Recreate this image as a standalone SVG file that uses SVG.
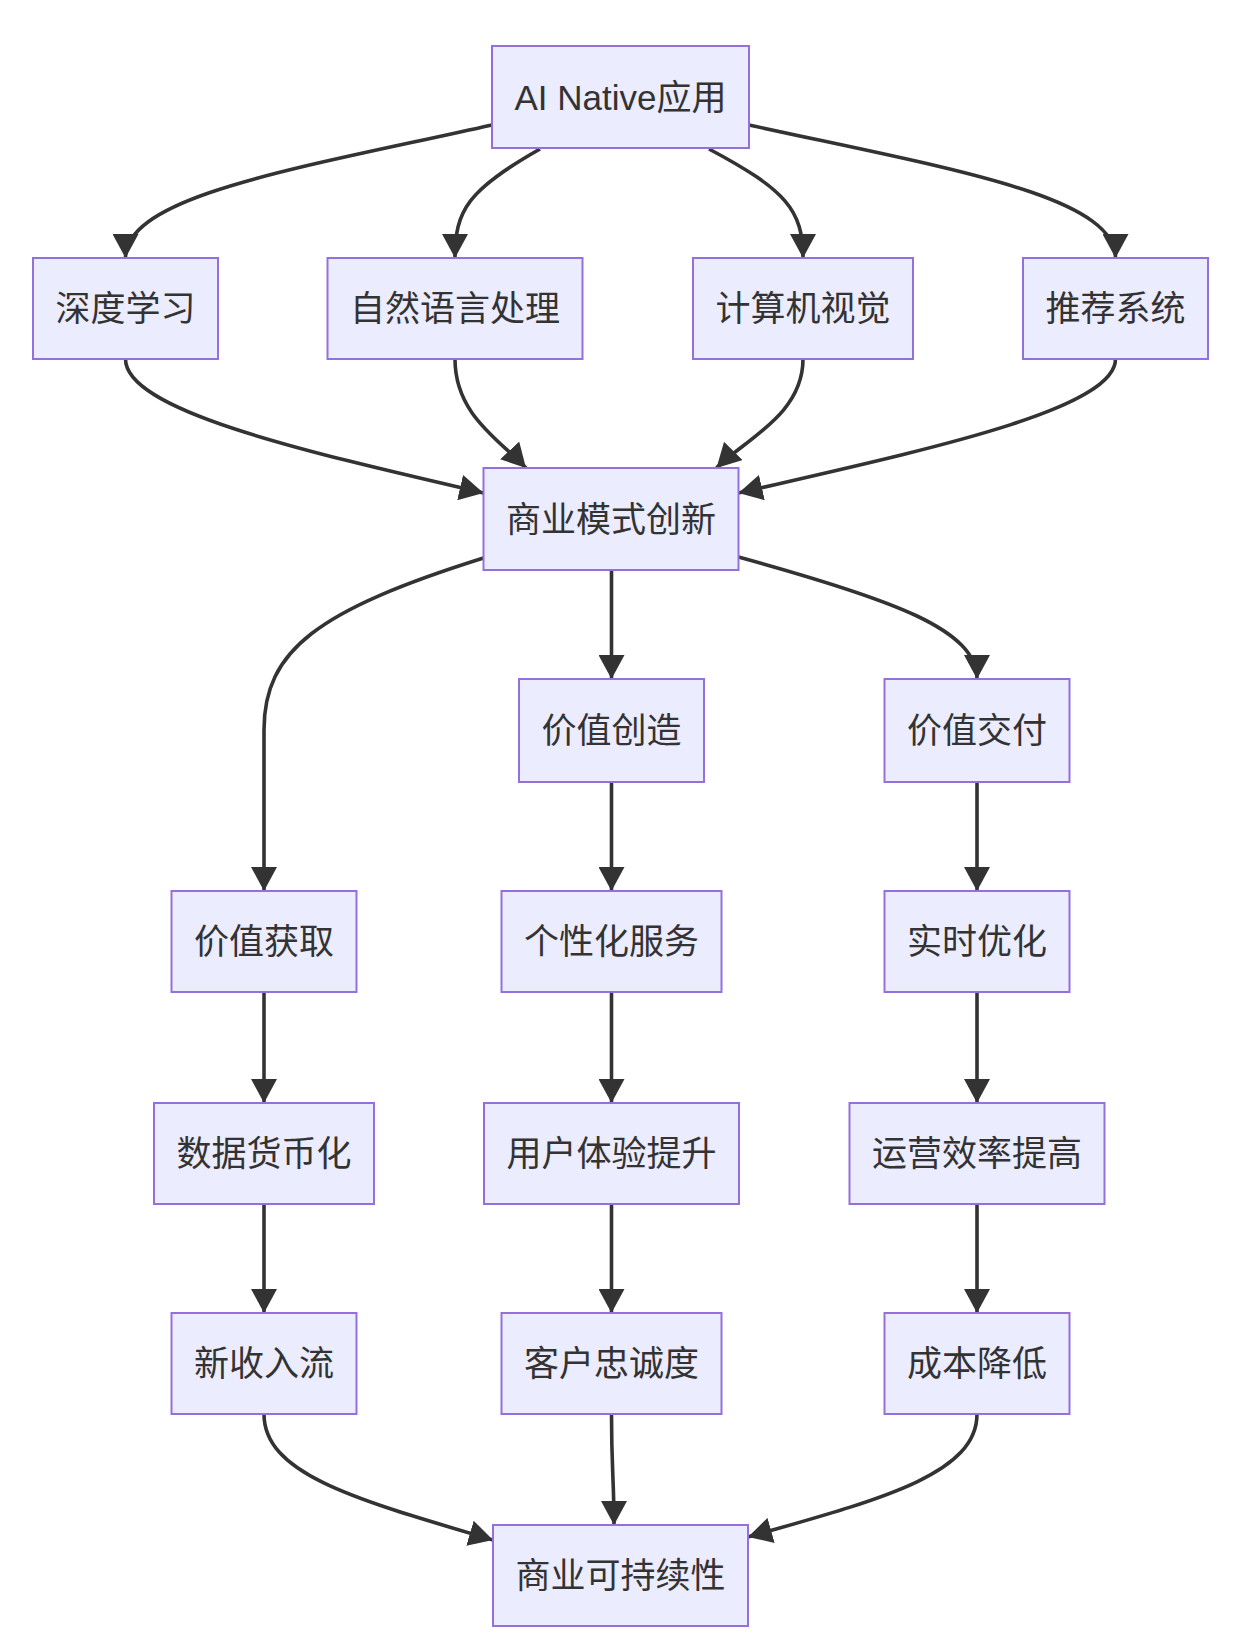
<svg xmlns="http://www.w3.org/2000/svg" width="1235" height="1652" viewBox="0 0 1235 1652">
<style>
.node rect{fill:#ECECFF;stroke:#9370DB;stroke-width:2}
.node text{font-family:"Liberation Sans","Noto Sans CJK SC",sans-serif;font-size:35px;fill:#333;text-anchor:middle;dominant-baseline:central}
.edges path{fill:none;stroke:#333;stroke-width:3.6;marker-end:url(#arrow)}
</style>
<defs>
<marker id="arrow" markerUnits="userSpaceOnUse" viewBox="0 0 24 26" markerWidth="24" markerHeight="26" refX="24" refY="13" orient="auto">
<path d="M0,0 L24,13 L0,26 z" fill="#333"/>
</marker>
</defs>
<g class="edges">
<path d="M492,125 C300,168 125.5,195 125.5,258"/>
<path d="M540,149 C468,190 455,210 455,258"/>
<path d="M709,149 C786,190 803,210 803,258"/>
<path d="M749,125 C945,168 1115.5,195 1115.5,258"/>
<path d="M125.5,359 C125.5,410 298,450 483.5,493"/>
<path d="M455,359 C455,415 500,440 526,468"/>
<path d="M803,359 C803,415 744,440 716.5,468"/>
<path d="M1115.5,359 C1115.5,410 925,450 738.5,493"/>
<path d="M483.5,558 C318,610 264,650 264,730 L264,891"/>
<path d="M611.5,570 L611.5,679"/>
<path d="M738.5,557 C895,600 977,630 977,679"/>
<path d="M611.5,782 L611.5,891"/>
<path d="M977,782 L977,891"/>
<path d="M264,992 L264,1103"/>
<path d="M611.5,992 L611.5,1103"/>
<path d="M977,992 L977,1103"/>
<path d="M264,1204 L264,1313"/>
<path d="M611.5,1204 L611.5,1313"/>
<path d="M977,1204 L977,1313"/>
<path d="M264,1414 C264,1475 358,1500 493,1540"/>
<path d="M611.5,1414 C611.5,1470 614,1480 614,1525"/>
<path d="M977,1414 C977,1475 878,1500 748,1537"/>
</g>
<g id="ai" class="node"><rect x="492" y="46" width="257" height="102"/><text x="620.5" y="97">AI Native应用</text></g>
<g id="dl" class="node"><rect x="33" y="258" width="185" height="101"/><text x="125.5" y="308.5">深度学习</text></g>
<g id="nlp" class="node"><rect x="327.5" y="258" width="255" height="101"/><text x="455" y="308.5">自然语言处理</text></g>
<g id="cv" class="node"><rect x="693" y="258" width="220" height="101"/><text x="803" y="308.5">计算机视觉</text></g>
<g id="rec" class="node"><rect x="1023" y="258" width="185" height="101"/><text x="1115.5" y="308.5">推荐系统</text></g>
<g id="bmi" class="node"><rect x="483.5" y="468" width="255" height="102"/><text x="611" y="519">商业模式创新</text></g>
<g id="vc" class="node"><rect x="519" y="679" width="185" height="103"/><text x="611.5" y="730.5">价值创造</text></g>
<g id="vd" class="node"><rect x="884.5" y="679" width="185" height="103"/><text x="977" y="730.5">价值交付</text></g>
<g id="vcap" class="node"><rect x="171.5" y="891" width="185" height="101"/><text x="264" y="941.5">价值获取</text></g>
<g id="ps" class="node"><rect x="501.5" y="891" width="220" height="101"/><text x="611.5" y="941.5">个性化服务</text></g>
<g id="rt" class="node"><rect x="884.5" y="891" width="185" height="101"/><text x="977" y="941.5">实时优化</text></g>
<g id="dm" class="node"><rect x="154" y="1103" width="220" height="101"/><text x="264" y="1153.5">数据货币化</text></g>
<g id="ux" class="node"><rect x="484" y="1103" width="255" height="101"/><text x="611.5" y="1153.5">用户体验提升</text></g>
<g id="oe" class="node"><rect x="849.5" y="1103" width="255" height="101"/><text x="977" y="1153.5">运营效率提高</text></g>
<g id="nr" class="node"><rect x="171.5" y="1313" width="185" height="101"/><text x="264" y="1363.5">新收入流</text></g>
<g id="cl" class="node"><rect x="501.5" y="1313" width="220" height="101"/><text x="611.5" y="1363.5">客户忠诚度</text></g>
<g id="cr" class="node"><rect x="884.5" y="1313" width="185" height="101"/><text x="977" y="1363.5">成本降低</text></g>
<g id="bs" class="node"><rect x="493" y="1525" width="255" height="101"/><text x="620.5" y="1575.5">商业可持续性</text></g>
</svg>
